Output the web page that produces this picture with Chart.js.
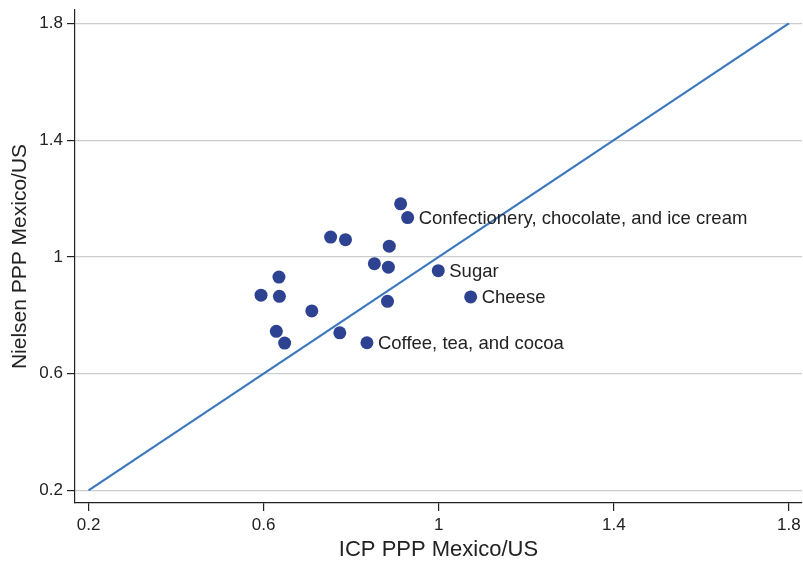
<!DOCTYPE html>
<html>
<head>
<meta charset="utf-8">
<script src="https://cdn.jsdelivr.net/npm/chart.js@4/dist/chart.umd.min.js"></script>
<style>
html,body{margin:0;padding:0;background:#fff;}
#wrap{width:803px;height:563px;position:relative;}
</style>
</head>
<body>
<div id="wrap"><canvas id="c" width="803" height="563"></canvas></div>
<script>
const icpValues = [0.913,0.929,0.753,0.787,0.887,0.853,0.885,0.999,0.635,0.594,0.636,1.073,0.883,0.710,0.629,0.774,0.648,0.836];
const nielsenValues = [1.182,1.135,1.068,1.059,1.037,0.977,0.965,0.953,0.931,0.869,0.865,0.863,0.848,0.815,0.745,0.740,0.705,0.706];
const pointLabels = ["","Confectionery, chocolate, and ice cream","","","","","","Sugar","","","","Cheese","","","","","","Coffee, tea, and cocoa"];
const tickValues = [0.2,0.6,1,1.4,1.8];
const lineX = [0.2,1.8];
const lineY = [0.2,1.8];

const FONT = "'Liberation Sans', Arial, Helvetica, sans-serif";

const labelPlugin = {
  id:'pointLabels',
  beforeLayout(chart){
    Object.values(chart.scales).forEach(s=>{
      s.getPadding = ()=>({left:0,right:0,top:0,bottom:0});
    });
  },
  afterDatasetsDraw(chart){
    const ctx = chart.ctx;
    const meta = chart.getDatasetMeta(1);
    ctx.save();
    ctx.font = "18.5px " + FONT;
    ctx.fillStyle = "#222";
    ctx.textBaseline = "middle";
    ctx.textAlign = "left";
    meta.data.forEach((el,i)=>{
      if(pointLabels[i]) ctx.fillText(pointLabels[i], el.x + 11, el.y + 1);
    });
    ctx.restore();
  }
};

new Chart(document.getElementById('c'), {
  type:'scatter',
  data:{
    datasets:[
      {
        type:'line',
        data: lineX.map((x,i)=>({x:x,y:lineY[i]})),
        borderColor:'#3b78c0',
        borderWidth:2.2,
        pointRadius:0,
        fill:false
      },
      {
        data: icpValues.map((x,i)=>({x:x,y:nielsenValues[i]})),
        backgroundColor:'#2d4391',
        borderColor:'#2d4391',
        pointRadius:6.5,
        borderWidth:0
      }
    ]
  },
  options:{
    responsive:false,
    animation:false,
    devicePixelRatio:1,
    layout:{autoPadding:false,padding:{top:10,right:1,left:0,bottom:0}},
    plugins:{legend:{display:false},tooltip:{enabled:false}},
    scales:{
      x:{
        type:'linear',
        min:0.169,max:1.830,
        afterBuildTicks(s){ s.ticks = tickValues.map(v=>({value:v})); },
        afterFit(s){ s.height = 60; s.paddingLeft = 0; s.paddingRight = 0; },
        border:{color:'#222',width:1.2},
        grid:{drawOnChartArea:false,tickColor:'#222',tickLength:8,lineWidth:1.2},
        ticks:{color:'#222',font:{family:FONT,size:17},padding:4,maxRotation:0,
          callback:(v)=>String(Math.round(v*10)/10)},
        title:{display:true,text:'ICP PPP Mexico/US',color:'#222',font:{family:FONT,size:22},padding:{top:0,bottom:0}}
      },
      y:{
        type:'linear',
        min:0.157,max:1.846,
        afterBuildTicks(s){ s.ticks = tickValues.map(v=>({value:v})); },
        afterFit(s){ s.width = 75; s.paddingTop = 0; s.paddingBottom = 0; },
        border:{color:'#222',width:1.2},
        grid:{color:'#cccccc',tickColor:'#222',tickLength:8,lineWidth:1.2},
        ticks:{color:'#222',font:{family:FONT,size:17},padding:4,
          callback:(v)=>String(Math.round(v*10)/10)},
        title:{display:true,text:'Nielsen PPP Mexico/US',color:'#222',font:{family:FONT,size:21},padding:{top:8,bottom:4}}
      }
    }
  },
  plugins:[labelPlugin]
});
</script>
</body>
</html>
